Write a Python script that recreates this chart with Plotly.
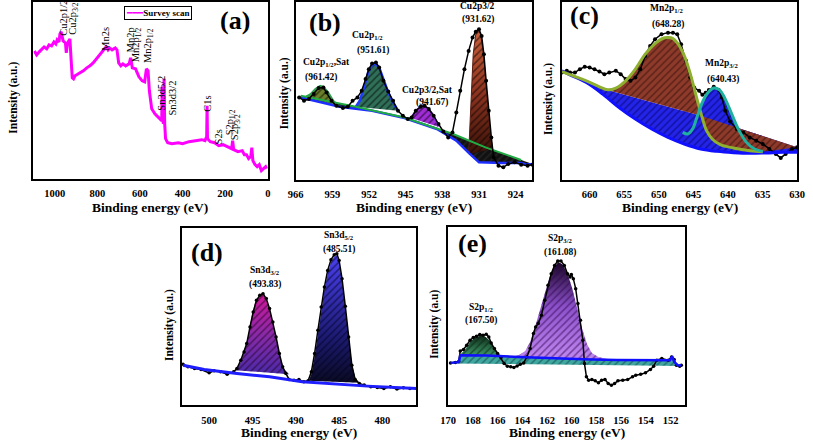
import numpy as np
import plotly.graph_objects as go

W, H = 813, 441
SERIF = "Liberation Serif, Times New Roman, DejaVu Serif, serif"

# ---------------- (a) survey scan ----------------
survey_ev = [1096, 1085, 1073, 1062, 1050, 1038, 1027, 1015, 1004, 995, 989, 980, 976, 970, 965, 961, 950,
             946, 940, 933, 929, 923, 918, 912, 905,
             897, 880, 866, 850, 835, 820, 805, 790, 774, 759, 750, 743, 731, 716, 708, 700, 690, 680, 667,
             651, 644, 636, 621, 605,
             590, 578, 570, 562, 556, 545, 530, 515, 505, 498, 496, 494, 490, 487, 484, 480, 470, 450,
             420, 400, 370, 340, 310, 295, 287, 285, 283, 270, 250, 230, 210, 190, 170, 165, 160, 140,
             120, 110, 100, 90, 80, 75, 70, 60, 50, 40, 30, 20, 10, 5]
survey_int = [128, 124, 127, 129, 132, 130, 134, 133, 137, 135, 139, 137, 145, 147, 140, 138, 136,
              126, 136, 139, 140, 118, 101, 100, 103,
              104, 106, 108, 111, 113, 116, 120, 123, 128, 132, 129, 131, 129, 131, 129, 116, 113, 115, 113,
              115, 121, 111, 110, 102,
              98, 97, 110, 108, 88, 70, 65, 62, 60, 58, 92, 60, 55, 100, 55, 40, 36, 35,
              36, 35, 37, 38, 39, 38, 42, 73, 40, 37, 36, 33, 34, 32, 30, 38, 29, 27,
              28, 24, 24, 20, 22, 31, 18, 14, 12, 14, 8, 10, 12, 10]

# ---------------- (b) Cu 2p ----------------
cu_ev = [965.35, 964.42, 963.49, 962.56, 961.63, 960.71, 960.09, 959.16, 958.23, 956.99, 956.06, 955.14,
         954.21, 953.40, 952.66, 952.04, 951.42, 950.68, 950.06, 949.26, 948.33, 947.40, 946.47, 945.54,
         944.61, 943.87, 943.07, 942.14, 941.40, 940.59, 939.66, 938.74, 937.81, 936.88, 936.07, 935.33,
         934.59, 933.78, 932.98, 932.24, 931.62, 931.00, 930.50, 930.07, 929.64, 929.14, 928.65, 928.21,
         927.28, 926.36, 925.43, 924.19, 922.95, 921.72, 920.79]
cu_int = [83.3, 80, 81.7, 86.7, 92.7, 93.3, 88.3, 80, 75, 72.7, 74, 80,
          83.3, 90, 101.7, 111.7, 117.3, 118.3, 113.3, 100, 89.3, 80, 70, 65,
          61.7, 63.3, 70, 74, 75, 71.7, 65, 56.7, 49.3, 43.3, 48.3, 68.3,
          90, 111.7, 130, 143.3, 149.3, 151.7, 145, 126.7, 100, 70, 43.3, 23.3,
          15, 13.3, 16.7, 18.3, 16, 15, 16]
cu_green_ev = [965.04, 954.52, 945.23, 935.95, 929.76, 922.95]
cu_green_int = [85, 74, 63.3, 46.7, 33.3, 20.7]
cu_blue_ev = [965.04, 957.61, 951.42, 945.23, 939.04, 935.33, 932.86, 931.0, 926.67, 922.95, 922.02, 920.79]
cu_blue_int = [83.3, 74, 70, 62.7, 51.7, 40, 27.3, 18.3, 17.7, 17.7, 16, 16.7]
cu_sat1_ev = [964.11, 963.18, 962.25, 961.33, 960.71, 959.78, 958.85, 957.92]
cu_sat1_int = [84, 86.7, 91.7, 95, 94, 88.3, 80, 75]
cu_p12_ev = [954.52, 953.77, 952.97, 952.17, 951.42, 950.80, 950.06, 949.26, 948.33, 947.40, 946.47]
cu_p12_int = [74, 80, 93.3, 108.3, 116, 117.3, 113.3, 101.7, 88.3, 78.3, 70]
cu_sat2_ev = [944.0, 943.07, 942.14, 941.40, 940.59, 939.66, 938.74]
cu_sat2_int = [62.7, 70, 74, 75, 71.7, 65, 54]
cu_p32_ev = [932.98, 932.55, 932.11, 931.62, 931.12, 930.69, 930.07, 929.45, 928.83, 928.40]
cu_p32_int = [26.7, 80, 126.7, 146.7, 150.7, 146.7, 123.3, 83.3, 46.7, 31.7]

# ---------------- (c) Mn 2p ----------------
mn_ev = [664.0, 663.29, 662.82, 662.11, 661.40, 660.70, 659.99, 659.28, 658.57, 657.86, 657.15, 656.21,
         655.50, 654.79, 654.09, 653.38, 652.67, 651.96, 651.25, 650.54, 649.60, 648.66, 647.95, 647.33,
         646.77, 646.06, 645.45, 644.88, 644.17, 643.70, 643.23, 642.76, 642.05, 641.34, 640.87, 640.39,
         639.69, 638.74, 637.80, 636.86, 635.91, 634.97, 634.02, 633.08, 632.37, 631.66, 630.72, 630.01]
mn_int = [107.3, 109, 107.3, 107.3, 110.7, 113, 112.3, 110.7, 108.3, 105.7, 107.3, 109,
          105.7, 100.7, 99, 102.3, 110.7, 124, 134, 140.7, 145.7, 147.3, 147.3, 145.7,
          135.7, 119, 102.3, 92.3, 89, 85, 87, 89.7, 93, 89.7, 82.3, 69,
          58.3, 50.7, 47.3, 42.3, 39, 35.7, 30.7, 25.7, 21.7, 25.7, 30.7, 32.3]
mn_bg_ev = [664.0, 662.82, 660.46, 658.10, 655.74, 653.38, 651.02, 648.66, 646.30, 643.94, 641.57, 639.21,
            636.85, 634.49, 632.13, 630.01]
mn_bg_int = [109, 105, 97.3, 85.7, 72.3, 60.7, 50.7, 42.3, 35.7, 30.7, 28.3, 27, 26.3, 26.7, 27.3, 27.3]
mn_line_ev = [664.0, 657.39, 643.94, 630.01]
mn_line_int = [109, 89.7, 64, 32.3]
mn_p12_ev = [664.0, 662.35, 660.46, 658.57, 657.39, 656.21, 654.79, 653.38, 651.96, 650.54, 649.36, 648.66,
             647.95, 647.24, 646.30, 645.36, 644.41, 643.70, 643.09, 642.28, 641.10, 639.21, 636.85, 634.97]
mn_p12_int = [108.3, 104, 99, 93, 90, 91.7, 99, 110.7, 125.7, 136.3, 141.7, 142.3,
              141.3, 136.3, 124, 104, 79, 61.7, 49, 40.7, 35, 31.7, 29, 28]
mn_p32_ev = [646.53, 645.82, 645.12, 644.41, 643.70, 642.99, 642.05, 641.20, 640.39, 639.45, 638.51,
             637.33, 636.15, 634.97]
mn_p32_int = [47.3, 45.7, 50.7, 64, 77.3, 86.3, 91.7, 89.7, 80.7, 65.7, 50.7, 37.3, 30.7, 28.3]

# ---------------- (d) Sn 3d ----------------
sn_ev = [503.02, 502.46, 501.70, 500.95, 500.01, 499.44, 498.69, 497.93, 497.18, 496.80, 496.35, 495.97,
         495.67, 495.29, 494.92, 494.54, 494.16, 493.79, 493.41, 493.03, 492.65, 492.28, 491.90, 491.52,
         491.15, 490.77, 490.20, 489.64, 489.07, 488.58, 488.20, 487.83, 487.45, 487.07, 486.70, 486.32,
         485.94, 485.56, 485.26, 485.0, 484.66, 484.28, 483.90, 483.53, 483.15, 482.66, 482.10, 481.34,
         480.59, 479.83, 479.08, 478.32, 477.57, 476.82, 476.06]
sn_int = [41, 38.3, 36.7, 35.7, 32.3, 34.3, 33.3, 31, 33.3, 36.7, 45, 53.3,
          61.7, 78.3, 93.3, 105, 110, 111.7, 106.7, 96.7, 83.3, 68.3, 51.7, 38.3,
          31.7, 25.7, 25, 25.7, 23.3, 24.3, 33.3, 51.7, 75, 98.3, 118.3, 135,
          145.7, 150.7, 151.7, 145, 126.7, 99, 68.3, 40, 25.7, 21.7, 20, 18.3,
          17.7, 16.7, 18.3, 16, 17.3, 16.7, 16.7]
sn_bg_ev = [503.02, 500.57, 496.80, 493.03, 489.26, 485.49, 481.72, 476.06]
sn_bg_int = [40, 35.7, 31.7, 28.3, 23.3, 21, 19, 16.7]
sn_p32_ev = [496.99, 496.35, 495.86, 495.48, 495.11, 494.73, 494.35, 493.97, 493.60, 493.22, 492.84,
             492.47, 492.09, 491.71, 491.33, 490.77]
sn_p32_int = [35, 43.3, 56.7, 70, 88.3, 101.7, 107.7, 111, 109, 101.7, 90, 75, 60, 45, 35.7, 31]
sn_p52_ev = [488.51, 488.20, 487.83, 487.45, 487.07, 486.70, 486.32, 485.94, 485.56, 485.26, 485.0,
             484.66, 484.28, 483.90, 483.53, 483.15, 482.66]
sn_p52_int = [24.3, 31, 48.3, 71.7, 95, 115, 131.7, 143.3, 149, 150, 143.3, 125, 98.3, 68.3, 41.7, 27.7, 22.3]

# ---------------- (e) S 2p ----------------
s_ev = [169.81, 169.42, 169.15, 169.02, 168.76, 168.50, 168.23, 167.97, 167.71, 167.44, 167.18, 166.92,
        166.71, 166.52, 166.26, 166.0, 165.73, 165.47, 165.21, 164.94, 164.68, 164.42, 164.16, 163.89,
        163.63, 163.37, 163.10, 162.92, 162.71, 162.45, 162.18, 161.92, 161.66, 161.39, 161.13, 160.87,
        160.60, 160.34, 160.13, 160.03, 159.87, 159.68, 159.50, 159.29, 159.10, 158.97, 158.81, 158.63,
        158.37, 158.10, 157.84, 157.58, 157.31, 157.05, 156.79, 156.53, 156.26, 155.87, 155.47, 155.08,
        154.82, 154.42, 154.03, 153.63, 153.37, 153.11, 152.71, 152.18, 151.92, 151.71, 151.53, 151.26,
        151.13]
s_int = [42.3, 42.7, 43.7, 54.3, 55.7, 60, 65, 67.7, 69, 70.7, 70, 71,
         68.3, 62.3, 56.7, 51.7, 47.7, 41.7, 39, 38.3, 37.7, 39.3, 41, 42.3,
         48.3, 56.7, 71.7, 78.3, 81.7, 90, 105, 120, 131.7, 140, 144.3, 144.3,
         140, 131.7, 128.3, 131, 126.7, 116.7, 101.7, 85, 65, 41.7, 28.3, 25,
         25.7, 24.3, 22.3, 25, 25.7, 21.7, 20, 21.7, 24.3, 25, 25.7, 28.3,
         30, 31, 32.3, 35.7, 39, 45, 46.7, 45, 48.3, 45.7, 40, 39,
         40]
s_bg_ev = [169.81, 169.13, 169.02, 166.92, 164.29, 161.66, 159.03, 156.39, 153.76, 152.05, 151.87,
           151.71, 151.40, 151.13]
s_bg_int = [42.3, 43, 50, 49.7, 48.3, 47, 46, 45.3, 44.7, 45, 49, 43.3, 39.7, 40]
s_low_ev = [169.81, 151.13]
s_low_int = [41.7, 39.3]
s_p12_ev = [169.08, 168.63, 168.23, 167.84, 167.44, 167.05, 166.66, 166.26, 165.87, 165.60]
s_p12_int = [50, 55.7, 63.3, 67.7, 69.3, 69, 65, 56.7, 51, 49.3]
s_p32_ev = [165.08, 164.29, 163.76, 163.37, 162.97, 162.58, 162.18, 161.79, 161.39, 161.08, 160.74,
            160.34, 159.95, 159.55, 159.16, 158.76, 158.37, 157.84, 157.05]
s_p32_int = [48.3, 50, 54.3, 63.3, 78.3, 95, 111.7, 128.3, 139, 143.3, 141, 131.7, 116.7, 97.7, 76.7,
             61, 52.3, 48.3, 46]

# ---------------- tick labels ----------------
ticks_a = [1000, 800, 600, 400, 200, 0]
ticks_b = [966, 959, 952, 945, 938, 931, 924]
ticks_c = [660, 655, 650, 645, 640, 635, 630]
ticks_d = [500, 495, 490, 485, 480]
ticks_e = [170, 168, 166, 164, 162, 160, 158, 156, 154, 152]

# ---------------- layout helpers ----------------
boxes = {
    1: (26, 1, 265, 178),
    2: (293.5, 1, 535, 179),
    3: (565, 1, 805, 179),
    4: (177, 228, 416.7, 405),
    5: (449, 227, 691, 405),
}
xranges = {1: [1100, 0], 2: [966.0, 920.79], 3: [664.0, 630.0], 4: [503.2, 476.06], 5: [170.0, 150.8]}
yranges = {1: [0, 177], 2: [1, 179], 3: [0, 178], 4: [0, 177], 5: [0, 178]}
tickv = {1: ticks_a, 2: ticks_b, 3: ticks_c, 4: ticks_d, 5: ticks_e}


def P(px, py):
    return px / W, 1 - py / H


fig = go.Figure()


def ax(i):
    return ("x" if i == 1 else f"x{i}"), ("y" if i == 1 else f"y{i}")


def line(i, x, y, color, width=2, mode="lines", msize=3.5, shape="linear"):
    xa, ya = ax(i)
    fig.add_trace(go.Scatter(x=x, y=y, mode=mode, xaxis=xa, yaxis=ya, showlegend=False,
                             hoverinfo="skip", line=dict(color=color, width=width, shape=shape),
                             marker=dict(color=color, size=msize)))


def area(i, x, y, bg, fg="black", outline=None, width=0, shape="/", solidity=0.3, size=5, grad=None):
    xa, ya = ax(i)
    x, y = list(x), list(y)
    if grad is not None:
        fig.add_trace(go.Scatter(x=x, y=y, mode="lines", fill="toself", xaxis=xa, yaxis=ya,
                                 showlegend=False, hoverinfo="skip",
                                 fillgradient=dict(type="vertical", colorscale=grad),
                                 line=dict(color="rgba(0,0,0,0)", width=0)))
        fig.add_trace(go.Scatter(x=x, y=y, mode="lines", fill="toself", xaxis=xa, yaxis=ya,
                                 showlegend=False, hoverinfo="skip", fillcolor="rgba(0,0,0,0)",
                                 fillpattern=dict(shape=shape, bgcolor="rgba(0,0,0,0)", fgcolor=fg,
                                                  size=size, solidity=solidity),
                                 line=dict(color=outline or "rgba(0,0,0,0)", width=width)))
        return
    fig.add_trace(go.Scatter(x=x, y=y, mode="lines", fill="toself", xaxis=xa, yaxis=ya,
                             showlegend=False, hoverinfo="skip", fillcolor=bg,
                             fillpattern=dict(shape=shape, bgcolor=bg, fgcolor=fg, size=size,
                                              solidity=solidity),
                             line=dict(color=outline or bg, width=width)))


def interp_desc(xq, xs, ys):
    xs = np.asarray(xs)[::-1]
    ys = np.asarray(ys)[::-1]
    return np.interp(np.asarray(xq), xs, ys)


# (a)
line(1, survey_ev, survey_int, "#FF00FF", width=3)

# (b)
area(2, cu_green_ev + cu_blue_ev[::-1], cu_green_int + cu_blue_int[::-1], "#111111", fg="#333333")
area(2, cu_sat1_ev, cu_sat1_int, "#6B7F2A", outline="#2E9E4F", width=2)
area(2, cu_p12_ev, cu_p12_int, "#2F6F58", outline="#1E3CFF", width=2.5)
area(2, cu_sat2_ev, cu_sat2_int, "#A02CD8", outline="#8A2BE2", width=2)
area(2, cu_p32_ev, cu_p32_int, "#9A3A22", outline="#5A1A10", width=1,
     grad=[[0, "#3A1208"], [0.5, "#8E3420"], [1, "#C8603A"]])
line(2, cu_blue_ev, cu_blue_int, "#1E2EFF", width=2.5)
line(2, cu_green_ev, cu_green_int, "#22AA44", width=2)
line(2, cu_ev, cu_int, "black", width=1.5, mode="lines+markers", msize=4)

# (c)
area(3, mn_line_ev + mn_bg_ev[::-1], mn_line_int + mn_bg_int[::-1], "#2424E8", fg="#000060")
pe = np.asarray(mn_p32_ev)
area(3, list(pe) + list(pe[::-1]), mn_p32_int + list(interp_desc(pe[::-1], mn_line_ev, mn_line_int)),
     "#2424E8", fg="#000060")
area(3, mn_p12_ev + mn_line_ev[::-1], mn_p12_int + mn_line_int[::-1], "#8E3A2A", fg="#2A0A05")
line(3, mn_ev, mn_int, "black", width=1.5, mode="lines+markers", msize=4)
line(3, mn_bg_ev, mn_bg_int, "#1010FF", width=3, shape="spline")
line(3, mn_p12_ev, mn_p12_int, "#8FAF30", width=3, shape="spline")
line(3, mn_p32_ev, mn_p32_int, "#20B0A0", width=3, shape="spline")

# (d)
area(4, sn_p32_ev, sn_p32_int, "#A0209A", fg="#200020",
     grad=[[0, "#4A2AA8"], [0.5, "#8A2AA8"], [1, "#D0169A"]])
area(4, sn_p52_ev, sn_p52_int, "#3A30D0", fg="#000020",
     grad=[[0, "#0A0A20"], [0.35, "#1C1A70"], [1, "#4A40F0"]])
line(4, sn_ev, sn_int, "black", width=1.5, mode="lines+markers", msize=3.5)
line(4, sn_bg_ev, sn_bg_int, "#1E1EFF", width=3)

# (e)
area(5, s_bg_ev + s_low_ev[::-1], s_bg_int + s_low_int[::-1], "#3FA6A0", fg="#0A4040")
area(5, s_p12_ev, s_p12_int, "#2E7F50", fg="#05200F",
     grad=[[0, "#3E9A6A"], [1, "#0E2A18"]])
area(5, s_p32_ev, s_p32_int, "#A060D8", fg="#300050",
     grad=[[0, "#C088F0"], [0.55, "#8A50C8"], [1, "#150520"]])
line(5, s_ev, s_int, "black", width=1.5, mode="lines+markers", msize=3.5)
line(5, s_bg_ev, s_bg_int, "#1010FF", width=2.5)

layout = dict(width=W, height=H, margin=dict(l=0, r=0, t=0, b=0), paper_bgcolor="white",
              plot_bgcolor="white", showlegend=False, font=dict(family=SERIF, color="black"))
for i, (l, t, r, b) in boxes.items():
    xk = "xaxis" if i == 1 else f"xaxis{i}"
    yk = "yaxis" if i == 1 else f"yaxis{i}"
    xa, ya = ax(i)
    layout[xk] = dict(domain=[l / W, r / W], range=xranges[i], anchor=ya, showgrid=False,
                      zeroline=False, showline=True, linecolor="black", linewidth=2, mirror=True,
                      ticks="", tickvals=tickv[i], ticklabelstandoff=4,
                      tickfont=dict(family=SERIF, size=10.5, color="black", weight="bold"))
    layout[yk] = dict(domain=[1 - b / H, 1 - t / H], range=yranges[i], anchor=xa, showgrid=False,
                      zeroline=False, showline=True, linecolor="black", linewidth=2, mirror=True,
                      ticks="", showticklabels=False)
fig.update_layout(**layout)

ann = []


def text(px, py, s, size=10, bold=True, angle=0):
    x, y = P(px, py)
    ann.append(dict(x=x, y=y, xref="paper", yref="paper", text=(f"<b>{s}</b>" if bold else s),
                    showarrow=False, xanchor="center", yanchor="middle", textangle=angle,
                    font=dict(family=SERIF, size=size, color="black")))


# axis titles
for px, py in [(145, 207), (414, 207), (685, 207), (297, 432), (570, 432)]:
    text(px, py, "Binding energy (eV)", size=13.5)
for px, py, s in [(6, 97, "Intensity (a.u.)"), (282, 92, "Intensity (a.u.)"), (552, 98, "Intensity (a.u.)"),
                  (165, 325, "Intensity (a.u.)"), (435, 324, "Intensity (a.u)")]:
    text(px, py, s, size=11.5, angle=-90)
# panel letters
for px, py, s in [(232, 20, "(a)"), (323, 22, "(b)"), (588, 15, "(c)"), (203, 252, "(d)"), (474, 243, "(e)")]:
    text(px, py, s, size=26)

# survey labels
for px, py, s in [(57, 17, "Cu2p1/2"), (67, 18, "Cu2p<sub>3/2</sub>"), (100, 38, "Mn2s"), (125, 39, "Mn2p"),
                  (131, 44, "Mn2p<sub>1/2</sub>"), (144, 45, "Mn2p<sub>1/2</sub>"), (157, 92, "Sn3d5/2"),
                  (168, 97, "Sn3d3/2"), (204, 103, "C1s"), (215, 136, "S2s"),
                  (227, 122, "S2p<sub>1/2</sub>"), (232, 126, "S2p<sub>3/2</sub>")]:
    text(px, py, s, size=10.5, bold=False, angle=-90)

# peak labels
for px, py, s in [(325, 62, "Cu2p<sub>1/2</sub>,Sat"), (319, 77, "(961.42)"),
                  (367, 35, "Cu2p<sub>1/2</sub>"), (372, 50, "(951.61)"),
                  (428, 89, "Cu2p3/2,Sat"), (433, 102, "(941.67)"),
                  (479, 5, "Cu2p3/2"), (479, 19, "(931.62)"),
                  (672, 8, "Mn2p<sub>1/2</sub>"), (673, 24, "(648.28)"),
                  (728, 63, "Mn2p<sub>3/2</sub>"), (729, 79, "(640.43)"),
                  (262, 270, "Sn3d<sub>3/2</sub>"), (262, 284, "(493.83)"),
                  (338, 235, "Sn3d<sub>5/2</sub>"), (338, 249, "(485.51)"),
                  (482, 307, "S2p<sub>1/2</sub>"), (482, 320, "(167.50)"),
                  (563, 238, "S2p<sub>3/2</sub>"), (563, 252, "(161.08)")]:
    text(px, py, s, size=9.5)

# legend box
lx, ly = P(153, 12)
ann.append(dict(x=lx, y=ly, xref="paper", yref="paper", showarrow=False, xanchor="center", yanchor="middle",
                text="<span style='color:#FF00FF'><b>━━━</b></span><b>Survey scan</b>",
                font=dict(family=SERIF, size=9, color="black"), bordercolor="black", borderwidth=1,
                borderpad=1, bgcolor="white"))

fig.update_layout(annotations=ann)
fig.write_html("out.html")
